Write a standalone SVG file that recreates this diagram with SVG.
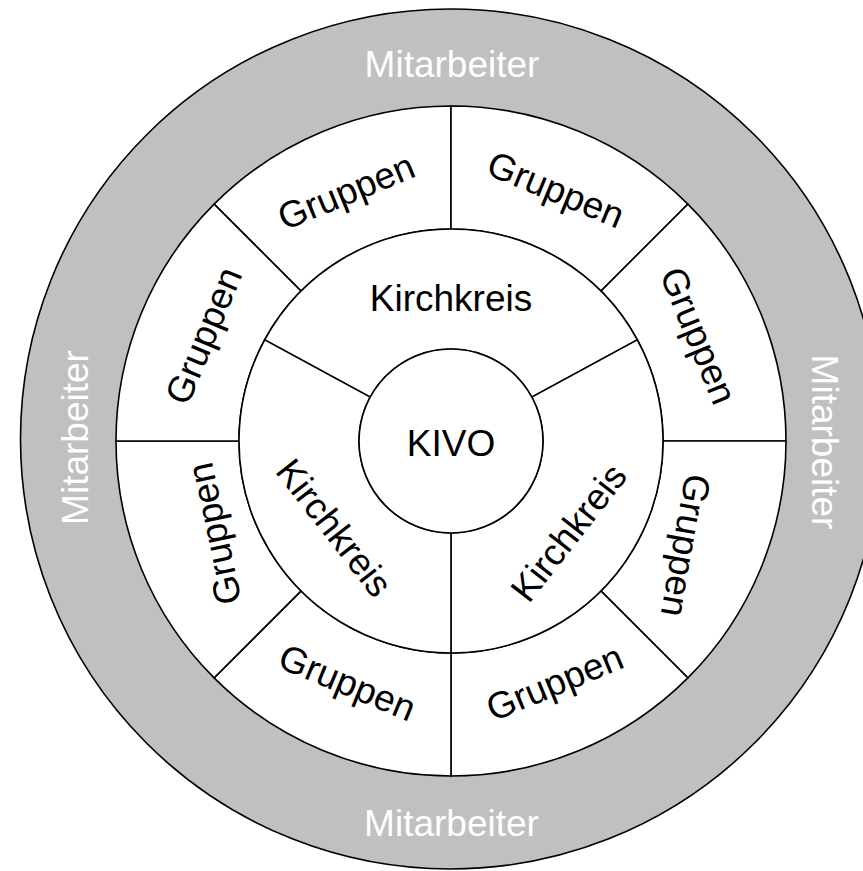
<svg xmlns="http://www.w3.org/2000/svg" width="863" height="871" viewBox="0 0 863 871">
<style>
.seg{fill:#ffffff;stroke:#000000;stroke-width:1.6}
.ring{fill:#c0c0c0;stroke:#000000;stroke-width:1.6}
.t{font-family:"Liberation Sans",Arial,sans-serif;font-size:37px;fill:#000000;text-anchor:middle}
.w{fill:#ffffff}
</style>
<rect width="863" height="871" fill="#ffffff"/>
<g id="mitarbeiter">
<circle class="ring" cx="450.5" cy="439" r="430"/>
<text class="t w" x="452" y="77">Mitarbeiter</text>
<text class="t w" x="451.5" y="836">Mitarbeiter</text>
<text class="t w" transform="translate(88,437.5) rotate(-90)">Mitarbeiter</text>
<text class="t w" transform="translate(812,442) rotate(90)">Mitarbeiter</text>
</g>
<g id="gruppen1">
<path class="seg" d="M214.12,204.12 A335,335 0 0 1 451,106 L451,229 A212,212 0 0 0 301.09,291.09 Z"/>
<text class="t" transform="translate(347.5,195) rotate(-22.5)" y="9">Gruppen</text>
</g>
<g id="gruppen2">
<path class="seg" d="M451,106 A335,335 0 0 1 687.88,204.12 L600.91,291.09 A212,212 0 0 0 451,229 Z"/>
<text class="t" transform="translate(554.5,193) rotate(22.5)" y="9">Gruppen</text>
</g>
<g id="gruppen3">
<path class="seg" d="M687.88,204.12 A335,335 0 0 1 786,441 L663,441 A212,212 0 0 0 600.91,291.09 Z"/>
<text class="t" transform="translate(695,337) rotate(67.5)" y="9">Gruppen</text>
</g>
<g id="gruppen4">
<path class="seg" d="M786,441 A335,335 0 0 1 687.88,677.88 L600.91,590.91 A212,212 0 0 0 663,441 Z"/>
<text class="t" transform="translate(682,545) rotate(100)" y="9">Gruppen</text>
</g>
<g id="gruppen5">
<path class="seg" d="M687.88,677.88 A335,335 0 0 1 451,776 L451,653 A212,212 0 0 0 600.91,590.91 Z"/>
<text class="t" transform="translate(556,686) rotate(-22.5)" y="9">Gruppen</text>
</g>
<g id="gruppen6">
<path class="seg" d="M451,776 A335,335 0 0 1 214.12,677.88 L301.09,590.91 A212,212 0 0 0 451,653 Z"/>
<text class="t" transform="translate(346,686) rotate(22.5)" y="9">Gruppen</text>
</g>
<g id="gruppen7">
<path class="seg" d="M214.12,677.88 A335,335 0 0 1 116,441 L239,441 A212,212 0 0 0 301.09,590.91 Z"/>
<text class="t" transform="translate(218,533) rotate(-102)" y="9">Gruppen</text>
</g>
<g id="gruppen8">
<path class="seg" d="M116,441 A335,335 0 0 1 214.12,204.12 L301.09,291.09 A212,212 0 0 0 239,441 Z"/>
<text class="t" transform="translate(207,337) rotate(-67.5)" y="9">Gruppen</text>
</g>
<g id="kirchkreis1">
<path class="seg" d="M264.69,339.84 A212,212 0 0 1 637.31,339.84 L531.85,397.10 A92,92 0 0 0 370.15,397.10 Z"/>
<text class="t" x="451" y="311">Kirchkreis</text>
</g>
<g id="kirchkreis2">
<path class="seg" d="M637.31,339.84 A212,212 0 0 1 451,653 L451,533 A92,92 0 0 0 531.85,397.10 Z"/>
<text class="t" transform="translate(568.5,532.5) rotate(-52)" y="13">Kirchkreis</text>
</g>
<g id="kirchkreis3">
<path class="seg" d="M451,653 A212,212 0 0 1 264.69,339.84 L370.15,397.10 A92,92 0 0 0 451,533 Z"/>
<text class="t" transform="translate(334.5,527.5) rotate(52)" y="13">Kirchkreis</text>
</g>
<g id="kivo">
<circle class="seg" cx="451" cy="441" r="92"/>
<text class="t" x="451" y="456">KIVO</text>
</g>
</svg>
